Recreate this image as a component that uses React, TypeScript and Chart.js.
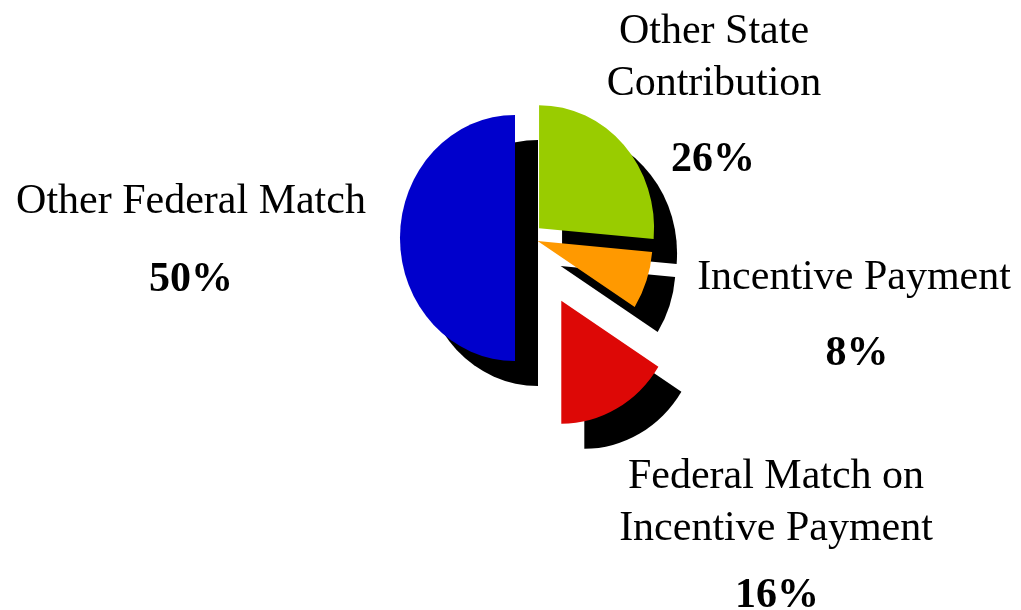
import React, { useEffect, useRef } from 'react';
import { Chart, registerables } from 'chart.js';

Chart.register(...registerables);

// ---- data ----
const categories = [
  'Other State Contribution',
  'Incentive Payment',
  'Federal Match on Incentive Payment',
  'Other Federal Match',
];
const labelLines = [
  ['Other State', 'Contribution'],
  ['Incentive Payment'],
  ['Federal Match on', 'Incentive Payment'],
  ['Other Federal Match'],
];
const shares = [26.4, 7.6, 16.0, 50.0];
const colors = ['#99CC00', '#FF9900', '#DD0806', '#0000CC'];
const explode = [14.6, 9.7, 71.7, 15];

// ---- layout / style ----
const X_SCALE = 0.935;
const SHADOW_DX = 23;
const SHADOW_DY = 25;
const LINE_H = 51.5;
const labelAnchors = [
  { x: 714, y: 43, px: 713, py: 171 },
  { x: 854, y: 289, px: 857, py: 365 },
  { x: 776, y: 488, px: 777, py: 607 },
  { x: 191, y: 213, px: 191, py: 291 },
];
const FONT_FAMILY = '"Liberation Serif", "Times New Roman", Times, serif';

const piePlugin = {
  id: 'explodedShadowPie',
  afterDatasetsUpdate(chart: any) {
    const meta = chart.getDatasetMeta(0);
    meta.data.forEach((arc: any, i: number) => {
      const mid = (arc.startAngle + arc.endAngle) / 2;
      const d = explode[i] || 0;
      arc.x += Math.cos(mid) * d;
      arc.y += Math.sin(mid) * d;
    });
  },
  beforeDatasetsDraw(chart: any) {
    const ctx = chart.ctx;
    const a = chart.chartArea;
    const cx = (a.left + a.right) / 2;
    const cy = (a.top + a.bottom) / 2;
    ctx.save();
    ctx.translate(cx, cy);
    ctx.scale(X_SCALE, 1);
    ctx.translate(-cx, -cy);
    const meta = chart.getDatasetMeta(0);
    ctx.fillStyle = '#000000';
    meta.data.forEach((arc: any) => {
      const x = arc.x + SHADOW_DX / X_SCALE;
      const y = arc.y + SHADOW_DY;
      ctx.beginPath();
      ctx.moveTo(x, y);
      ctx.arc(x, y, arc.outerRadius, arc.startAngle, arc.endAngle);
      ctx.closePath();
      ctx.fill();
    });
  },
  afterDatasetsDraw(chart: any) {
    chart.ctx.restore();
  },
  afterDraw(chart: any) {
    const ctx = chart.ctx;
    const total = shares.reduce((s, v) => s + v, 0);
    ctx.save();
    ctx.fillStyle = '#000000';
    ctx.textAlign = 'center';
    ctx.textBaseline = 'alphabetic';
    labelLines.forEach((lines, i) => {
      const p = labelAnchors[i];
      ctx.font = `42px ${FONT_FAMILY}`;
      lines.forEach((line, j) => {
        ctx.fillText(line, p.x, p.y + j * LINE_H);
      });
      ctx.font = `bold 42px ${FONT_FAMILY}`;
      ctx.fillText(`${Math.round((shares[i] / total) * 100)}%`, p.px, p.py);
    });
    ctx.restore();
  },
};

export default function App() {
  const canvasRef = useRef<HTMLCanvasElement | null>(null);

  useEffect(() => {
    const canvas = canvasRef.current;
    if (!canvas) return;
    const chart = new Chart(canvas, {
      type: 'pie',
      data: {
        labels: categories,
        datasets: [
          {
            data: shares,
            backgroundColor: colors,
            borderWidth: 0,
            clip: false as any,
          },
        ],
      },
      options: {
        responsive: false,
        animation: false,
        events: [],
        radius: 123,
        layout: { padding: { left: 37, right: 0, top: 0, bottom: 134 } },
        plugins: {
          legend: { display: false },
          tooltip: { enabled: false },
        },
      } as any,
      plugins: [piePlugin],
    });
    return () => chart.destroy();
  }, []);

  return (
    <div style={{ position: 'absolute', left: 0, top: 0, width: 1021, height: 610, background: '#ffffff' }}>
      <canvas ref={canvasRef} width={1021} height={610} style={{ width: 1021, height: 610, display: 'block' }} />
    </div>
  );
}
